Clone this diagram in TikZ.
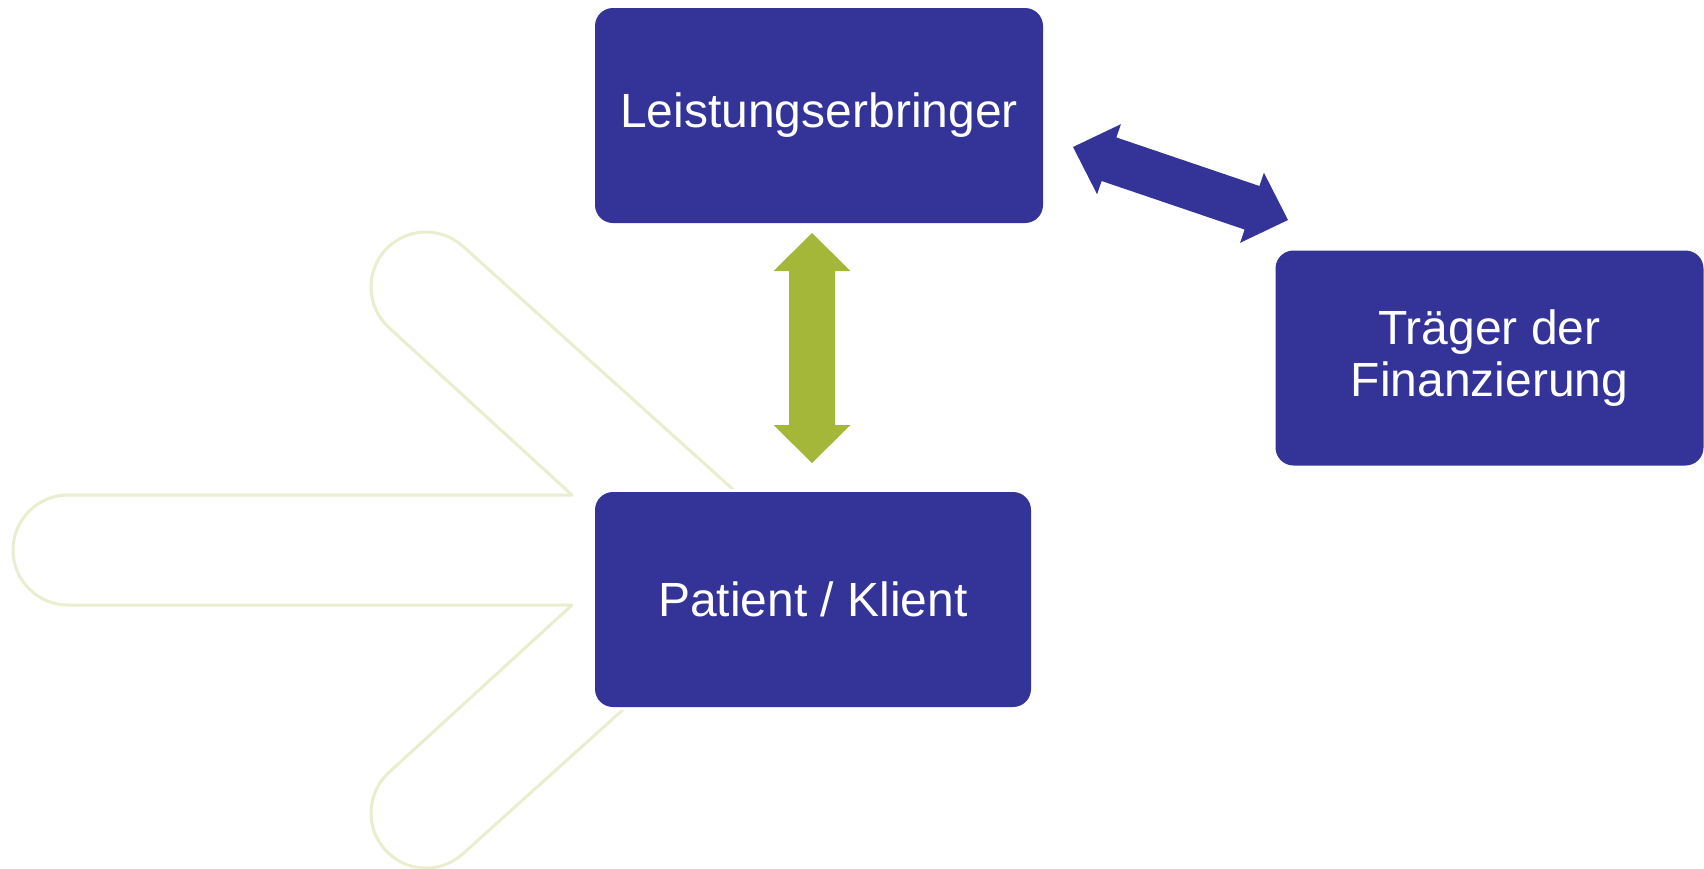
\documentclass[tikz,border=0pt]{standalone}
\usepackage{fontspec}
\setmainfont{Liberation Sans}
\usetikzlibrary{calc}
\definecolor{boxblue}{RGB}{52,52,152}
\definecolor{leaf}{RGB}{164,183,57}
\definecolor{faint}{RGB}{233,238,206}
% #1 from, #2 to, #3 shaft half width, #4 head half width, #5 head length, #6 colour
\newcommand\blockarrow[6]{%
  \fill[#6] let \p1=(#1), \p2=(#2), \n1={veclen(\x2-\x1,\y2-\y1)}, \n2={atan2(\y2-\y1,\x2-\x1)} in
  [shift={(\p1)}, rotate=\n2] (0,0) -- (#5,#4) -- (#5,#3) -- (\n1-#5,#3) -- (\n1-#5,#4) -- (\n1,0)
  -- (\n1-#5,-#4) -- (\n1-#5,-#3) -- (#5,-#3) -- (#5,-#4) -- cycle;}
\begin{document}
\begin{tikzpicture}[x=1pt,y=1pt,
  box/.style={rounded corners=18pt, fill=boxblue, text=white, align=center,
    font=\fontsize{48}{52}\selectfont, inner sep=0pt,
    preaction={draw=white, line width=6pt}},
  ghost/.style={draw=faint, line width=3pt, fill=white, line join=round}]
\useasboundingbox (0,0) rectangle (1704,-868);
% faint background arrow
\draw[ghost] (68,-495) -- (572,-495) -- (389.2,-327.9)
  arc[start angle=-132, end angle=-312, radius=55] -- (800.3,-550) -- (462.8,-853.9)
  arc[start angle=-48, end angle=-228, radius=55] -- (572,-605) -- (68,-605)
  arc[start angle=-90, end angle=-270, radius=55] -- cycle;
% boxes
\node[box, minimum width=448pt, minimum height=215pt] (L) at (819,-115.5) {Leistungserbringer};
\node[box, minimum width=436pt, minimum height=215pt] (P) at (813,-599.5) {Patient / Klient};
\node[box, minimum width=428pt, minimum height=215pt] (T) at (1489.5,-358) {\raisebox{-3pt}{Träger der}\\\raisebox{-3pt}{Finanzierung}};
% block arrows
\coordinate (g1) at (812,-233);
\coordinate (g2) at (812,-463);
\blockarrow{g1}{g2}{23}{38.5}{38}{leaf}
\coordinate (b1) at (1073,-147);
\coordinate (b2) at (1288,-220);
\blockarrow{b1}{b2}{23}{37}{38}{boxblue}
\end{tikzpicture}
\end{document}
